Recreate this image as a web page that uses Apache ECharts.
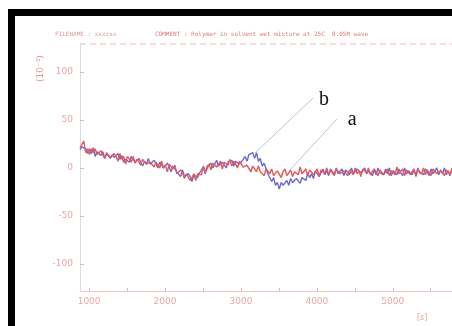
<!DOCTYPE html>
<html>
<head>
<meta charset="utf-8">
<script src="https://cdn.jsdelivr.net/npm/echarts@6/dist/echarts.min.js"></script>
<style>
  html, body { margin: 0; padding: 0; background: #fff; }
  #chart { width: 452px; height: 326px; }
</style>
</head>
<body>
<div id="chart"></div>
<script>
// sample positions (x axis)
const xValues = [
  880, 905, 930, 955, 980, 1005, 1030, 1055, 1080, 1105,
  1130, 1155, 1180, 1205, 1230, 1255, 1280, 1305, 1330, 1355,
  1380, 1405, 1430, 1455, 1480, 1505, 1530, 1555, 1580, 1605,
  1630, 1655, 1680, 1705, 1730, 1755, 1780, 1805, 1830, 1855,
  1880, 1905, 1930, 1955, 1980, 2005, 2030, 2055, 2080, 2105,
  2130, 2155, 2180, 2205, 2230, 2255, 2280, 2305, 2330, 2355,
  2380, 2405, 2430, 2455, 2480, 2505, 2530, 2555, 2580, 2605,
  2630, 2655, 2680, 2705, 2730, 2755, 2780, 2805, 2830, 2855,
  2880, 2905, 2930, 2955, 2980, 3005, 3030, 3055, 3080, 3105,
  3130, 3155, 3180, 3205, 3230, 3255, 3280, 3305, 3330, 3355,
  3380, 3405, 3430, 3455, 3480, 3505, 3530, 3555, 3580, 3605,
  3630, 3655, 3680, 3705, 3730, 3755, 3780, 3805, 3830, 3855,
  3880, 3905, 3930, 3955, 3980, 4005, 4030, 4055, 4080, 4105,
  4130, 4155, 4180, 4205, 4230, 4255, 4280, 4305, 4330, 4355,
  4380, 4405, 4430, 4455, 4480, 4505, 4530, 4555, 4580, 4605,
  4630, 4655, 4680, 4705, 4730, 4755, 4780, 4805, 4830, 4855,
  4880, 4905, 4930, 4955, 4980, 5005, 5030, 5055, 5080, 5105,
  5130, 5155, 5180, 5205, 5230, 5255, 5280, 5305, 5330, 5355,
  5380, 5405, 5430, 5455, 5480, 5505, 5530, 5555, 5580, 5605,
  5630, 5655, 5680, 5705, 5730, 5755, 5780
];

// curve a (red)
const aValues = [
  21, 21, 28, 16, 20, 14, 20, 16, 20, 14,
  12, 18, 16, 10, 16, 18, 11, 9, 15, 12,
  7, 15, 9, 12, 4, 12, 10, 6, 12, 5,
  9, 6, 3, 9, 11, 4, 3, 6, 8, 1,
  6, 4, 0, 7, 0, 3, -4, 4, 2, -1,
  3, -6, -6, -2, -5, -11, -6, -5, -13, -10,
  -6, -13, -6, -4, -7, 2, -4, -1, 4, -2,
  5, 7, 1, 3, 7, -1, 6, 6, 3, 9,
  2, 7, 4, 0, 7, 9, 1, -1, 3, 4,
  -4, 2, -1, -4, 2, -4, -2, -8, -1, -2,
  -6, -1, -8, -8, -3, -5, -10, -4, -1, -8,
  -5, -2, -9, -4, -2, -7, 1, -6, -5, -1,
  -8, -2, 0, -7, -5, -1, -9, -2, -3, -6,
  0, -7, -2, -5, -8, -1, 1, -6, -7, -3,
  -1, -8, -2, -4, -7, 0, -6, -3, -9, -1,
  -2, -5, 0, -7, -6, -1, -3, -8, -2, 0,
  -7, -4, -1, -8, -3, -2, -7, 1, -6, -5,
  -1, -8, -2, 0, -7, -5, -1, -9, -2, -3,
  -6, 0, -7, -2, -5, -8, -1, 1, -6, -7,
  -3, -1, -8, -2, -4, -7, 0
];

// curve b (blue)
const bValues = [
  19, 22, 23, 20, 15, 20, 15, 21, 12, 17,
  18, 13, 17, 10, 15, 17, 10, 14, 11, 9,
  15, 9, 13, 6, 9, 11, 6, 12, 9, 6,
  4, 10, 9, 2, 7, 4, 10, 4, 2, 8,
  5, 0, 6, 5, 0, -1, 5, 1, -4, 2,
  2, -4, -2, -9, -2, -9, -11, -6, -9, -14,
  -7, -6, -10, -5, -6, 1, -6, 2, 1, 5,
  0, 4, 8, 2, 1, 6, 7, 0, 6, 4,
  8, 2, 7, 9, 4, 3, 9, 12, 7, 14,
  12, 16, 10, 16, 7, 10, 2, 5, 3, -6,
  -6, -14, -10, -18, -15, -22, -15, -18, -19, -13,
  -18, -11, -15, -17, -11, -10, -16, -10, -8, -13,
  -5, -10, -6, -11, -3, -4, -9, -7, -1, -7,
  -3, -8, -1, -3, -7, 0, -6, -5, -1, -8,
  -2, -3, -7, 0, -6, -8, -1, -2, -5, -7,
  0, -6, -3, -1, -8, -2, -7, 0, -5, -3,
  -7, -1, -6, 0, -8, -3, -2, -7, -1, -5,
  -8, 0, -6, -3, -1, -7, -2, -8, 0, -5,
  -3, -7, -1, -2, -8, -1, -6, -5, 0, -7,
  -2, -6, 0, -7, -3, -8, -1
];

const xTickValues = [1000, 1500, 2000, 2500, 3000, 3500, 4000, 4500, 5000, 5500];
const xLabelValues = [1000, 2000, 3000, 4000, 5000];
const yTickValues = [-100, -50, 0, 50, 100];

// annotation leaders: [from, to] in data coords, and label spots
const leaderB = [[3186, 15.6], [3950, 72.8]];
const leaderA = [[3620, -4.2], [4266, 51]];
const labelB = [4095, 71];
const labelA = [4464, 50];

const pair = (xs, ys) => xs.map((x, i) => [x, ys[i]]);

const chart = echarts.init(document.getElementById("chart"));

const pink = "#e8a6a6";

chart.setOption({
  backgroundColor: "#fff",
  animation: false,
  grid: { left: 80, top: 44, right: 0, bottom: 35 },
  xAxis: {
    type: "value",
    min: 880,
    max: 5780,
    splitLine: { show: false },
    axisLine: { onZero: false, lineStyle: { color: "#f0c4c4", width: 1 } },
    axisTick: {
      inside: true,
      length: 3,
      customValues: xTickValues,
      lineStyle: { color: "#e6b0b0" },
    },
    axisLabel: {
      customValues: xLabelValues,
      formatter: (v) => String(v),
      color: pink,
      fontSize: 9,
      fontFamily: "DejaVu Sans",
      margin: 6,
    },
  },
  yAxis: {
    type: "value",
    min: -128,
    max: 129,
    splitLine: { show: false },
    axisLine: { show: true, lineStyle: { color: "#dcdcdc", width: 1 } },
    axisTick: {
      show: true,
      inside: true,
      length: 4,
      customValues: yTickValues,
      lineStyle: { color: "#e0b8b8" },
    },
    axisLabel: {
      customValues: yTickValues,
      color: pink,
      fontSize: 9,
      fontFamily: "DejaVu Sans",
      margin: 7,
    },
  },
  series: [
    {
      name: "b",
      type: "line",
      data: pair(xValues, bValues),
      symbol: "none",
      lineStyle: { color: "#6a6ad6", width: 1.4 },
      markLine: {
        silent: true,
        symbol: ["none", "none"],
        label: { show: false },
        lineStyle: { color: "#b8c8d8", width: 1, type: "solid" },
        data: [
          [{ coord: leaderB[0] }, { coord: leaderB[1] }],
          [{ coord: leaderA[0] }, { coord: leaderA[1] }],
        ],
      },
      markPoint: {
        silent: true,
        symbol: "circle",
        symbolSize: 1,
        itemStyle: { color: "rgba(0,0,0,0)" },
        label: {
          show: true,
          position: "inside",
          color: "#111",
          fontSize: 20,
          fontFamily: "Liberation Serif",
        },
        data: [
          { coord: labelB, label: { formatter: "b" } },
          { coord: labelA, label: { formatter: "a" } },
        ],
      },
    },
    {
      name: "a",
      type: "line",
      data: pair(xValues, aValues),
      symbol: "none",
      lineStyle: { color: "#e45858", width: 1.4 },
    },
  ],
  graphic: [
    // black frame (top and left bars)
    { type: "rect", shape: { x: 8, y: 9, width: 444, height: 7 }, style: { fill: "#000" } },
    { type: "rect", shape: { x: 8, y: 9, width: 7, height: 317 }, style: { fill: "#000" } },
    // top border of plot
    {
      type: "line",
      shape: { x1: 80, y1: 44, x2: 452, y2: 44 },
      style: { stroke: "#f2b8b8", lineWidth: 1, lineDash: [6, 4] },
    },
    {
      type: "text",
      x: 55, y: 31,
      style: { text: "FILENAME : xxxxxx", fill: "#d89a9a", fontSize: 6, fontFamily: "DejaVu Sans Mono" },
    },
    {
      type: "text",
      x: 155, y: 31,
      style: {
        text: "COMMENT : Polymer in solvent wet mixture at 25C  0.05M wave",
        fill: "#e07a7a", fontSize: 6, fontFamily: "DejaVu Sans Mono",
      },
    },
    {
      type: "text",
      x: 36, y: 82,
      rotation: Math.PI / 2,
      style: { text: "(10\u207b\u00b3)", fill: "#e09a9a", fontSize: 9, fontFamily: "DejaVu Sans" },
    },
    {
      type: "text",
      x: 417, y: 314,
      style: { text: "[s]", fill: "#e0a0a0", fontSize: 8, fontFamily: "DejaVu Sans" },
    },
  ],
});
</script>
</body>
</html>
